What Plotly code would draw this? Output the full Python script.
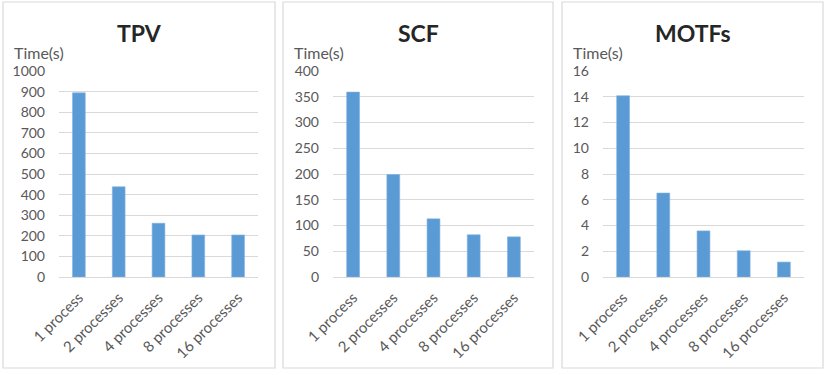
import plotly.graph_objects as go

W, H = 830, 375

categories = ["1 process", "2 processes", "4 processes", "8 processes", "16 processes"]
tpv_times = [894, 438, 261, 204, 204]
scf_times = [359, 199, 113, 82, 78]
motfs_times = [14.08, 6.52, 3.58, 2.04, 1.16]

panel_titles = ["TPV", "SCF", "MOTFs"]
y_ranges = [[0, 1000], [0, 400], [0, 16]]
y_dticks = [100, 50, 2]

FONT = "Lato"
TEXT = "#595959"
GRID = "#D9D9D9"
BAR = "#5B9BD5"

# panel boxes and plot areas, in pixels
boxes = [(3, 275), (283, 553), (562, 823)]
plots = [(59, 258), (333, 534), (603, 804)]
box_top, box_bottom = 2, 368
plot_top, plot_bottom = 71, 277


def px_x(v):
    return v / W


def px_y(v):
    return 1 - v / H


fig = go.Figure()
series = [tpv_times, scf_times, motfs_times]

for i, vals in enumerate(series):
    n = "" if i == 0 else str(i + 1)
    fig.add_trace(go.Bar(
        x=categories, y=vals,
        xaxis="x" + n, yaxis="y" + n,
        marker=dict(color=BAR, line=dict(color="#7FB2E0", width=0.6)),
        showlegend=False,
    ))
    fig.update_layout(**{
        "xaxis" + n: dict(
            domain=[px_x(plots[i][0]), px_x(plots[i][1])],
            anchor="y" + n, automargin=False,
            tickangle=-45,
            tickfont=dict(family=FONT, size=15, color=TEXT),
            showgrid=False, showline=True, linecolor=GRID, linewidth=1,
            ticks="", ticklabelstandoff=5, fixedrange=True,
        ),
        "yaxis" + n: dict(
            domain=[px_y(plot_bottom), px_y(plot_top)],
            anchor="x" + n, automargin=False,
            range=y_ranges[i], dtick=y_dticks[i],
            showgrid=True, gridcolor=GRID, gridwidth=1,
            zeroline=False, showline=False, ticks="",
            tickfont=dict(family=FONT, size=14, color=TEXT),
            ticklabelstandoff=13, fixedrange=True,
        ),
    })

    # panel border
    fig.add_shape(type="rect", xref="paper", yref="paper",
                  x0=px_x(boxes[i][0]), x1=px_x(boxes[i][1]),
                  y0=px_y(box_bottom), y1=px_y(box_top),
                  line=dict(color=GRID, width=1.2), fillcolor="rgba(0,0,0,0)")
    # chart title
    fig.add_annotation(text="<b>" + panel_titles[i] + "</b>", showarrow=False,
                       xref="paper", yref="paper",
                       x=px_x((boxes[i][0] + boxes[i][1]) / 2), y=px_y(33),
                       xanchor="center", yanchor="middle",
                       font=dict(family=FONT, size=23, color="#262626"))
    # axis label
    fig.add_annotation(text="Time(s)", showarrow=False,
                       xref="paper", yref="paper",
                       x=px_x(boxes[i][0] + 9), y=px_y(52),
                       xanchor="left", yanchor="middle",
                       font=dict(family=FONT, size=16, color=TEXT))

fig.update_layout(
    width=W, height=H,
    margin=dict(l=0, r=0, t=0, b=0),
    paper_bgcolor="white", plot_bgcolor="white",
    bargap=0.68,
    font=dict(family=FONT, color=TEXT),
)

# drop the browser's default 8px body margin so the figure sits at the page origin
fig.write_html("out.html", config={"displayModeBar": False},
               post_script="document.body.style.margin = '0';")
